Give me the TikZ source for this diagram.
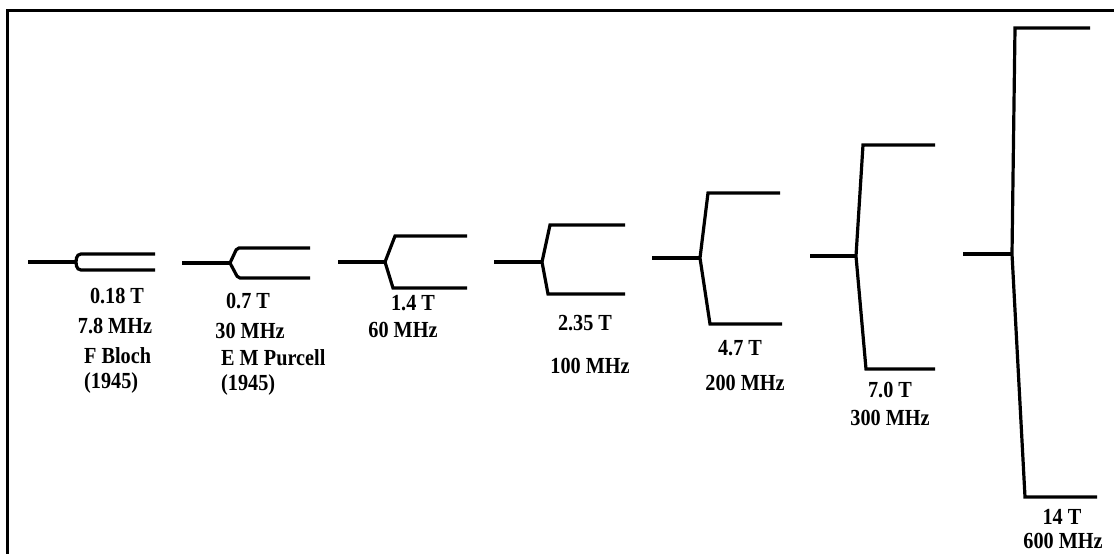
\documentclass[tikz,border=0pt]{standalone}
\usepackage{fontspec}
\setmainfont{Liberation Serif}[FakeStretch=0.88]
\begin{document}
\begin{tikzpicture}[x=1pt,y=-1pt,
  level/.style={line width=3.2pt},
  frame/.style={line width=3pt},
  lbl/.style={font=\fontsize{23}{26}\selectfont\bfseries, inner sep=0pt},
  lbll/.style={lbl, anchor=west}]
\useasboundingbox (0,0) rectangle (1114,554);
% frame
\draw[frame] (7,554) -- (7,10) -- (1114,10);

% 0.18 T
\coordinate (s1) at (28,262); \coordinate (f1) at (76,262);
\coordinate (u1) at (77,254); \coordinate (ue1) at (155,254);
\coordinate (l1) at (77,270); \coordinate (le1) at (155,270);
\draw[level] (s1) -- (f1);
\draw[level, rounded corners=4pt] (f1) -- (u1) -- (ue1);
\draw[level, rounded corners=4pt] (f1) -- (l1) -- (le1);

% 0.7 T
\coordinate (s2) at (182,263); \coordinate (f2) at (230,263);
\coordinate (u2) at (237,248); \coordinate (ue2) at (310,248);
\coordinate (l2) at (238,278); \coordinate (le2) at (310,278);
\draw[level] (s2) -- (f2);
\draw[level, rounded corners=2pt] (f2) -- (u2) -- (ue2);
\draw[level, rounded corners=2pt] (f2) -- (l2) -- (le2);

% 1.4 T
\coordinate (s3) at (338,262); \coordinate (f3) at (385,262);
\coordinate (u3) at (395,236); \coordinate (ue3) at (467,236);
\coordinate (l3) at (393,288); \coordinate (le3) at (467,288);
\draw[level] (s3) -- (f3);
\draw[level] (ue3) -- (u3) -- (f3) -- (l3) -- (le3);

% 2.35 T
\coordinate (s4) at (494,262); \coordinate (f4) at (542,262);
\coordinate (u4) at (550,225); \coordinate (ue4) at (625,225);
\coordinate (l4) at (548,294); \coordinate (le4) at (625,294);
\draw[level] (s4) -- (f4);
\draw[level] (ue4) -- (u4) -- (f4) -- (l4) -- (le4);

% 4.7 T
\coordinate (s5) at (652,258); \coordinate (f5) at (700,258);
\coordinate (u5) at (708,193); \coordinate (ue5) at (780,193);
\coordinate (l5) at (710,324); \coordinate (le5) at (782,324);
\draw[level] (s5) -- (f5);
\draw[level] (ue5) -- (u5) -- (f5) -- (l5) -- (le5);

% 7.0 T
\coordinate (s6) at (810,256); \coordinate (f6) at (856,256);
\coordinate (u6) at (863,145); \coordinate (ue6) at (935,145);
\coordinate (l6) at (866,369); \coordinate (le6) at (935,369);
\draw[level] (s6) -- (f6);
\draw[level] (ue6) -- (u6) -- (f6) -- (l6) -- (le6);

% 14 T
\coordinate (s7) at (963,254); \coordinate (f7) at (1012,254);
\coordinate (u7) at (1015,28); \coordinate (ue7) at (1090,28);
\coordinate (l7) at (1025,497); \coordinate (le7) at (1097,497);
\draw[level] (s7) -- (f7);
\draw[level] (ue7) -- (u7) -- (f7) -- (l7) -- (le7);

% labels
\node[lbl] (t1) at (117,296) {0.18 T};
\node[lbl] (m1) at (115,326) {7.8 MHz};
\node[lbll] (n1) at (84,356) {F Bloch};
\node[lbll] (y1) at (84,383) {(1945)};

\node[lbl] (t2) at (248,301) {0.7 T};
\node[lbl] (m2) at (250,331) {30 MHz};
\node[lbll] (n2) at (221,358) {E M Purcell};
\node[lbll] (y2) at (221,385) {(1945)};

\node[lbl] (t3) at (413,303) {1.4 T};
\node[lbl] (m3) at (403,330) {60 MHz};

\node[lbl] (t4) at (585,323) {2.35 T};
\node[lbl] (m4) at (590,366) {100 MHz};

\node[lbl] (t5) at (740,348) {4.7 T};
\node[lbl] (m5) at (745,383) {200 MHz};

\node[lbl] (t6) at (890,390) {7.0 T};
\node[lbl] (m6) at (890,418) {300 MHz};

\node[lbl] (t7) at (1062,517) {14 T};
\node[lbl] (m7) at (1063,541) {600 MHz};
\end{tikzpicture}
\end{document}
